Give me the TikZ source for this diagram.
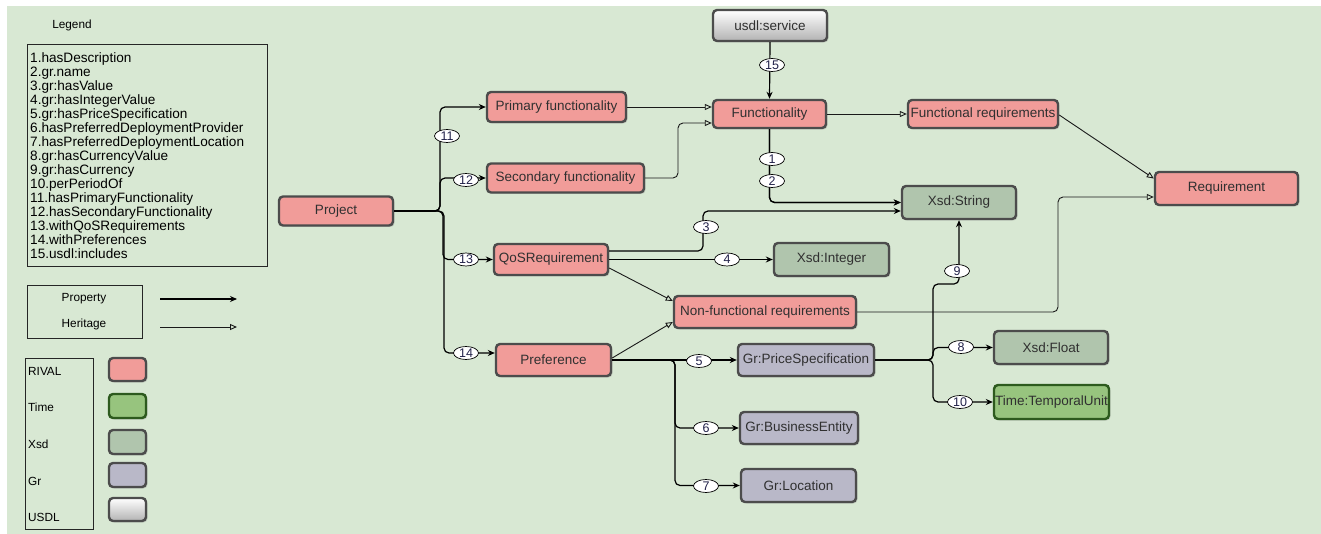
\documentclass[tikz,border=0pt]{standalone}
\usepackage{fontspec}
\setmainfont{Liberation Sans}
\usetikzlibrary{arrows.meta,shapes.geometric,shadows}
\definecolor{bg}{HTML}{D8E8D3}
\definecolor{rival}{HTML}{F19C99}
\definecolor{xsd}{HTML}{B0C5AD}
\definecolor{grc}{HTML}{B9B8C8}
\definecolor{timec}{HTML}{97C47E}
\definecolor{timeb}{HTML}{2D5A1E}
\definecolor{bord}{HTML}{4C4C4C}
\definecolor{txt}{HTML}{303030}
\definecolor{lbltxt}{HTML}{22224A}
\begin{document}
\begin{tikzpicture}[x=1pt,y=-1pt,
  box/.style={draw=bord,line width=2.4pt,rounded corners=4pt,inner sep=0pt,text=txt,
    font=\fontsize{13.5}{14}\selectfont,
    drop shadow={shadow xshift=1.5pt,shadow yshift=-1.5pt,opacity=0.3}},
  rivalbox/.style={box,fill=rival},
  xsdbox/.style={box,fill=xsd},
  grbox/.style={box,fill=grc},
  timebox/.style={box,fill=timec,draw=timeb},
  usdlbox/.style={box,top color=white,bottom color=black!30},
  prop/.style={draw=black,line width=1.2pt,-{Stealth[length=7pt,width=6pt]},rounded corners=5pt},
  her/.style={draw=black!90,line width=0.9pt,-{Triangle[open,length=7pt,width=6pt]},rounded corners=5pt},
  lbl/.style={ellipse,draw=black,line width=0.7pt,fill=white,minimum width=25pt,minimum height=13pt,
    inner sep=0pt,font=\fontsize{12.5}{12.5}\selectfont,text=lbltxt,text height=9pt,text depth=0pt},
  legtxt/.style={inner sep=0pt,font=\fontsize{13.6}{14}\selectfont,text=black},
  smalltxt/.style={inner sep=0pt,font=\fontsize{11.8}{12}\selectfont,text=black},
  legframe/.style={draw=black!85,line width=0.8pt}
]
\useasboundingbox (0,0) rectangle (1321,534);
\fill[white] (0,0) rectangle (1321,534);
\fill[bg] (7,6) rectangle (1321,534);

% ---------- legend ----------
\node[smalltxt] (legtitle) at (72,25) {Legend};
\draw[legframe] (27,44) rectangle (267,266);
\foreach \t [count=\i] in {1.hasDescription,2.gr.name,3.gr:hasValue,4.gr:hasIntegerValue,
  5.gr:hasPriceSpecification,6.hasPreferredDeploymentProvider,7.hasPreferredDeploymentLocation,
  8.gr:hasCurrencyValue,9.gr:hasCurrency,10.perPeriodOf,11.hasPrimaryFunctionality,
  12.hasSecondaryFunctionality,13.withQoSRequirements,14.withPreferences,15.usdl:includes}
  \node[legtxt,anchor=base west] (leg\i) at (30,{63+(\i-1)*13.93}) {\t};

\draw[legframe] (27,285) rectangle (142,338);
\node[smalltxt] (lprop) at (84,299) {Property};
\node[smalltxt] (lher) at (84,324) {Heritage};
\coordinate (pa) at (160,299); \coordinate (pb) at (237,299);
\coordinate (ha) at (160,327); \coordinate (hb) at (237,327);
\draw[prop] (pa) -- (pb);
\draw[her] (ha) -- (hb);

\draw[legframe] (25,358) rectangle (93,529);
\node[smalltxt,anchor=west] (lrival) at (28,371) {RIVAL};
\node[smalltxt,anchor=west] (ltime) at (28,407) {Time};
\node[smalltxt,anchor=west] (lxsd) at (28,444) {Xsd};
\node[smalltxt,anchor=west] (lgr) at (28,481) {Gr};
\node[smalltxt,anchor=west] (lusdl) at (28,517) {USDL};
\node[rivalbox,minimum width=37pt,minimum height=23pt] (srival) at (127.5,369.5) {};
\node[timebox,minimum width=37pt,minimum height=24pt] (stime) at (127.5,406) {};
\node[xsdbox,minimum width=37pt,minimum height=24pt] (sxsd) at (127.5,442) {};
\node[grbox,minimum width=37pt,minimum height=24pt] (sgr) at (127.5,475) {};
\node[usdlbox,minimum width=37pt,minimum height=23pt] (susdl) at (127.5,509.5) {};

% ---------- nodes ----------
\node[usdlbox,minimum width=114pt,minimum height=31pt] (usdl) at (770,25.5) {usdl:service};
\node[rivalbox,minimum width=113pt,minimum height=28pt] (func) at (769.5,114) {Functionality};
\node[rivalbox,minimum width=150pt,minimum height=28pt] (fr) at (983,114) {Functional requirements};
\node[rivalbox,minimum width=139pt,minimum height=30pt] (prim) at (556.5,107) {Primary functionality};
\node[rivalbox,minimum width=157pt,minimum height=29pt] (sec) at (565.5,178) {Secondary functionality};
\node[rivalbox,minimum width=114pt,minimum height=29pt] (project) at (336,211) {Project};
\node[rivalbox,minimum width=114pt,minimum height=31pt] (qos) at (551,259.5) {QoSRequirement};
\node[xsdbox,minimum width=115pt,minimum height=33pt] (xint) at (831.5,259.5) {Xsd:Integer};
\node[rivalbox,minimum width=182pt,minimum height=32pt] (nf) at (765,312) {Non-functional requirements};
\node[rivalbox,minimum width=115pt,minimum height=32pt] (pref) at (553.5,360) {Preference};
\node[grbox,minimum width=136pt,minimum height=32pt] (ps) at (806,360) {Gr:PriceSpecification};
\node[xsdbox,minimum width=114pt,minimum height=33pt] (xstr) at (959,202.5) {Xsd:String};
\node[rivalbox,minimum width=143pt,minimum height=33pt] (req) at (1226.5,188.5) {Requirement};
\node[xsdbox,minimum width=114pt,minimum height=33pt] (xfloat) at (1051,347.5) {Xsd:Float};
\node[timebox,minimum width=115pt,minimum height=34pt] (time) at (1051.5,402) {Time:TemporalUnit};
\node[grbox,minimum width=118pt,minimum height=32pt] (be) at (799,428) {Gr:BusinessEntity};
\node[grbox,minimum width=115pt,minimum height=33pt] (loc) at (798.5,485.5) {Gr:Location};

% ---------- connectors ----------
\draw[prop] (project.east) -- (440,211) |- (prim.west);
\draw[prop] (project.east) -- (440,211) |- (sec.west);
\draw[prop] (project.east) -- (443,211) |- (qos.west);
\draw[prop] (project.east) -- (444,211) |- ([yshift=7pt]pref.west);
\draw[prop] (usdl.south) -- (func.north);
\draw[her] (prim.east) -- (prim.east -| func.west);
\draw[her] (sec.east) -- (678,178) |- ([yshift=-9pt]func.west);
\draw[her] (func.east) -- (fr.west);
\draw[her] ([yshift=-1pt]fr.east) -- ([yshift=10pt]req.west);
\draw[her] (nf.east) -- (1058,312) |- ([yshift=-8.5pt]req.west);
\draw[prop] (func.south) |- (xstr.west);
\draw[prop] (func.south) |- (xstr.west);
\draw[prop] ([yshift=8.5pt]qos.east) -- (703,251) |- ([yshift=-8.5pt]xstr.west);
\draw[prop] (qos.east) -- (xint.west);
\draw[her] ([yshift=-8.5pt]qos.east) -- ([yshift=11pt]nf.west);
\draw[her] ([yshift=2pt]pref.east) -- ([yshift=-10pt]nf.west);
\draw[prop] (pref.east) -- (ps.west);
\draw[prop] (pref.east) -- (675,360) |- (be.west);
\draw[prop] (pref.east) -- (675,360) |- (loc.west);
\draw[prop] (ps.east) -- (933,360) |- (xfloat.west);
\draw[prop] (ps.east) -- (933,360) |- (time.west);
\draw[prop] (ps.east) -- (933,360) -- (933,284) -| (xstr.south);

% ---------- labels ----------
\node[lbl] (l11) at (447,136) {11};
\node[lbl] (l12) at (466,180) {12};
\node[lbl] (l13) at (466,259.5) {13};
\node[lbl] (l14) at (466,353) {14};
\node[lbl] (l15) at (772,65) {15};
\node[lbl] (l1) at (772,159) {1};
\node[lbl] (l2) at (772,181) {2};
\node[lbl] (l3) at (706,227) {3};
\node[lbl] (l4) at (727,259.5) {4};
\node[lbl] (l5) at (699,361) {5};
\node[lbl] (l6) at (706,428) {6};
\node[lbl] (l7) at (706,486) {7};
\node[lbl] (l8) at (961,347) {8};
\node[lbl] (l10) at (960,402) {10};
\node[lbl] (l9) at (957,271) {9};
\end{tikzpicture}
\end{document}
